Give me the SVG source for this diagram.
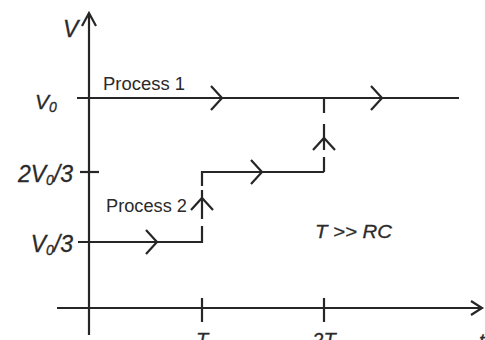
<svg xmlns="http://www.w3.org/2000/svg" width="485" height="340" viewBox="0 0 485 340">
<style>
.ln{stroke:#262626;stroke-width:2.2;fill:none;stroke-linecap:butt;stroke-linejoin:miter}
.lab{font-family:"Liberation Sans",Arial,sans-serif;font-style:italic;fill:#2a2a2a;stroke:#2a2a2a;stroke-width:0.3}
.txt{font-family:"Liberation Sans",Arial,sans-serif;fill:#2a2a2a}
</style>
<defs>
<path id="chevR" d="M-11,-12 L0,0 L-11,12"/>
<path id="chevU" d="M-11,12 L0,0 L11,12"/>
</defs>
<rect width="485" height="340" fill="#ffffff"/>
<g id="axes">
<path class="ln" d="M89,335 V13 M82,26 L89,13 L96,26"/>
<path class="ln" d="M57,308 H482 M471,301 L482,308 L471,315"/>
<path class="ln" d="M202,298 V322 M324,298 V322"/>
<path class="ln" d="M80,172 H99"/>
</g>
<g id="labels">
<text class="lab" x="63" y="37" font-size="23">V</text>
<text class="lab" x="35" y="109" font-size="21">V<tspan font-size="14" dy="3">0</tspan></text>
<text class="lab" x="73" y="182" font-size="23" text-anchor="end">2V<tspan font-size="14" dy="3">0</tspan><tspan dy="-3">/3</tspan></text>
<text class="lab" x="73" y="252" font-size="23" text-anchor="end">V<tspan font-size="14" dy="3">0</tspan><tspan dy="-3">/3</tspan></text>
<text class="lab" x="315" y="238" font-size="19" textLength="77" lengthAdjust="spacingAndGlyphs">T &gt;&gt; RC</text>
<text class="lab" x="202" y="347" font-size="20" text-anchor="middle">T</text>
<text class="lab" x="324" y="347" font-size="20" text-anchor="middle">2T</text>
<text class="lab" x="479" y="348" font-size="20">t</text>
</g>
<g id="process1">
<text class="txt" x="103" y="90" font-size="18" textLength="82" lengthAdjust="spacingAndGlyphs">Process 1</text>
</g>
<g id="process2">
<text class="txt" x="106" y="212" font-size="18" textLength="81" lengthAdjust="spacingAndGlyphs">Process 2</text>
</g>
<g id="connectors">
<path class="ln" d="M77,98 H459"/>
<use href="#chevR" class="ln" x="222" y="98"/>
<use href="#chevR" class="ln" x="382" y="98"/>
<path class="ln" d="M324,98 V113 M324,124 V150 M324,157 V172"/>
<use href="#chevU" class="ln" x="324" y="138"/>
<path class="ln" d="M324,172 H202 V186 M202,190 V219 M202,226 V242 H78"/>
<use href="#chevR" class="ln" x="262" y="172"/>
<use href="#chevU" class="ln" x="202" y="198"/>
<use href="#chevR" class="ln" x="157" y="242"/>
</g>
</svg>
